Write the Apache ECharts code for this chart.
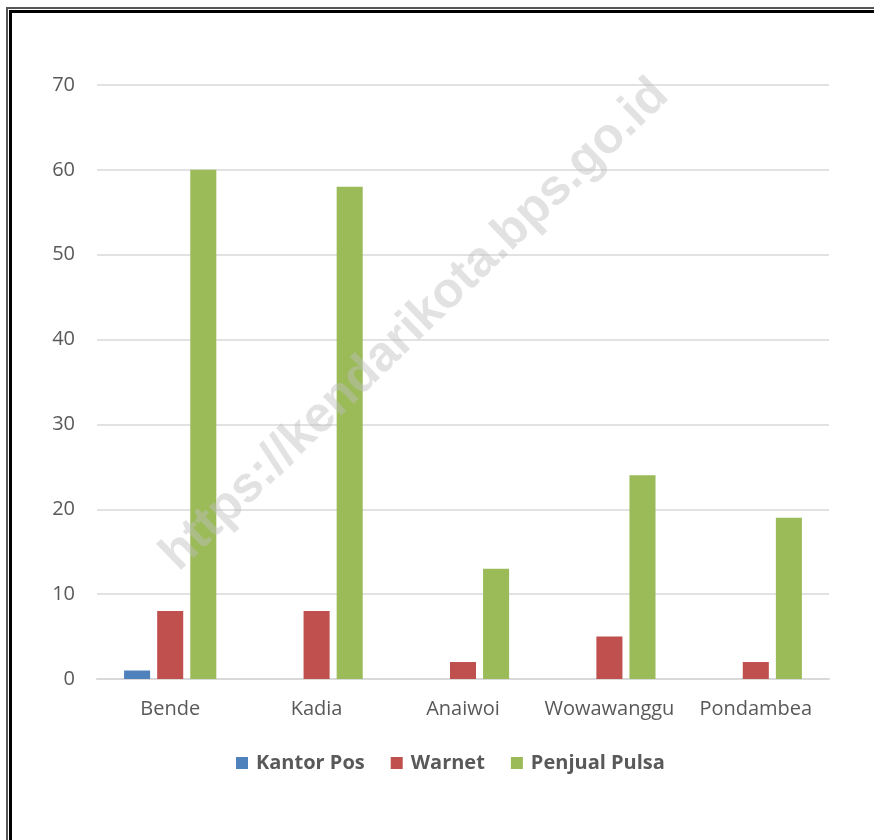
<!DOCTYPE html>
<html>
<head>
<meta charset="utf-8">
<script src="https://cdn.jsdelivr.net/npm/echarts@6/dist/echarts.min.js"></script>
<style>
  html, body { margin: 0; padding: 0; background: #fff; }
  #frame-outer { position: absolute; left: 6px; top: 7px; width: 880px; height: 850px;
    border-left: 2px solid #555; border-top: 2px solid #555; }
  #frame-inner { position: absolute; left: 9px; top: 10px; width: 880px; height: 850px;
    border-left: 3px solid #000; border-top: 3px solid #000; }
  #chart { position: absolute; left: 0; top: 0; width: 874px; height: 840px; }
</style>
</head>
<body>
<div id="frame-outer"></div>
<div id="frame-inner"></div>
<div id="chart"></div>
<script>
// data
const villages = ['Bende', 'Kadia', 'Anaiwoi', 'Wowawanggu', 'Pondambea'];
const kantorPos = [1, 0, 0, 0, 0];
const warnet = [8, 8, 2, 5, 2];
const penjualPulsa = [60, 58, 13, 24, 19];

const font = '"Open Sans", "Noto Sans", sans-serif';
const textColor = '#595959';

const chart = echarts.init(document.getElementById('chart'));

const makeSeries = (name, data, color) => ({
    name,
    type: 'bar',
    data,
    itemStyle: { color },
    barGap: '27%',
    barCategoryGap: '37%',
    emphasis: { disabled: true },
});

chart.setOption({
    animation: false,
    grid: { left: 97, right: 45, top: 85, bottom: 161 },
    legend: {
        bottom: 62,
        left: 231,
        itemWidth: 12,
        itemHeight: 12,
        itemGap: 26,
        icon: 'rect',
        textStyle: { fontFamily: font, fontSize: 20, fontWeight: 'bold', color: textColor, padding: [0, 0, 0, 3] },
    },
    xAxis: {
        type: 'category',
        data: villages,
        axisTick: { show: false },
        axisLine: { lineStyle: { color: '#d9d9d9', width: 2 } },
        axisLabel: { interval: 0, fontFamily: font, fontSize: 20, color: textColor, margin: 20 },
    },
    yAxis: {
        type: 'value',
        min: 0,
        max: 70,
        interval: 10,
        axisLabel: { fontFamily: font, fontSize: 20, color: textColor, margin: 22 },
        splitLine: { lineStyle: { color: '#d9d9d9', width: 1.5 } },
    },
    graphic: [{
        type: 'text',
        x: 415,
        y: 325,
        rotation: Math.PI * 44 / 180,
        style: {
            text: 'https://kendarikota.bps.go.id',
            font: 'bold 50px "Liberation Sans", Arial, sans-serif',
            fill: 'rgba(190,190,190,0.45)',
            align: 'center',
            verticalAlign: 'middle',
        },
        z: 100,
    }],
    series: [
        makeSeries('Kantor Pos', kantorPos, '#4f81bd'),
        makeSeries('Warnet', warnet, '#c0504d'),
        makeSeries('Penjual Pulsa', penjualPulsa, '#9bbb59'),
    ],
});
</script>
</body>
</html>
